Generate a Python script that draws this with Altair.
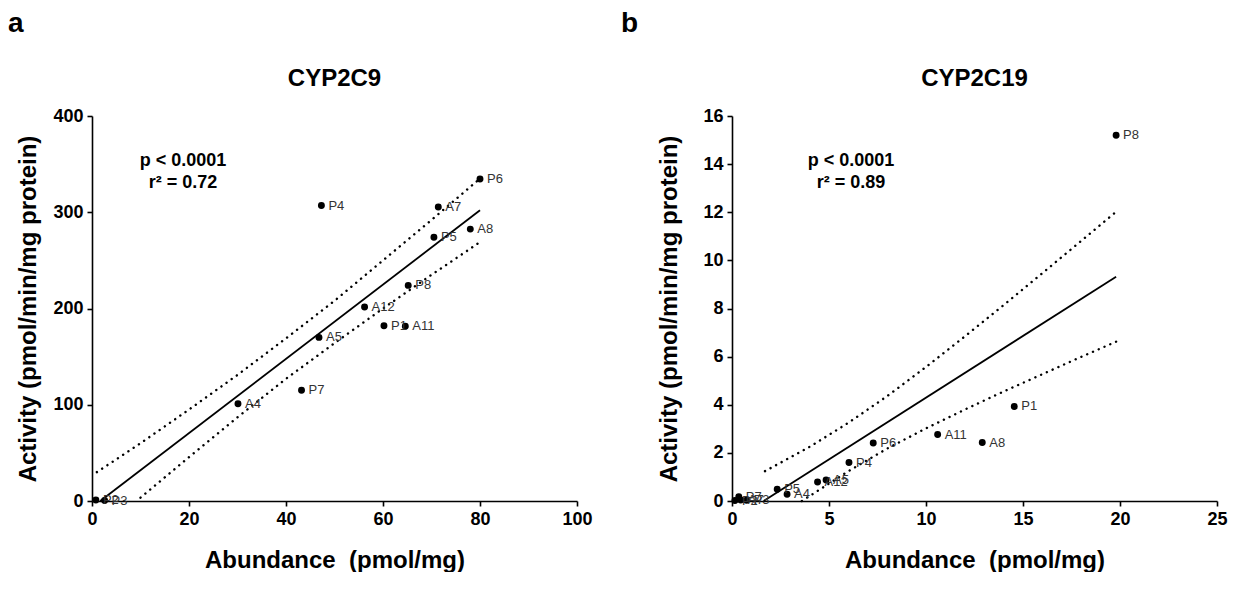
import altair as alt
import pandas as pd

FONT = "Liberation Sans"

# ---------- Panel a: CYP2C9 ----------
a_labels = ["P1", "P2", "P3", "P4", "P5", "P6", "P7", "P8", "A4", "A5", "A7", "A8", "A11", "A12"]
a_abund = [60.2, 0.8, 2.6, 47.3, 70.5, 80.0, 43.2, 65.2, 30.1, 46.8, 71.4, 78.0, 64.6, 56.2]
a_act = [182, 1, 0.5, 307, 274, 334.5, 115, 224, 101, 170, 305.5, 282.5, 181.5, 201.6]
a_fit_x = [1.7, 80]
a_fit_y = [0, 302]
a_up_x = [1, 10, 20, 30, 40, 50, 60, 70, 80]
a_up_y = [30, 60, 95, 131, 169, 208, 250, 292, 335]
a_lo_x = [10, 20, 30, 40, 50, 60, 70, 80]
a_lo_y = [3.5, 45.6, 87, 127, 164, 200, 235, 269]
a_xticks = [0, 20, 40, 60, 80, 100]
a_yticks = [0, 100, 200, 300, 400]
a_stats = ["p < 0.0001", "r\u00b2 = 0.72"]

# ---------- Panel b: CYP2C19 ----------
b_labels = ["P1", "P2", "P3", "P4", "P5", "P6", "P7", "P8", "A4", "A5", "A7", "A8", "A11", "A12"]
b_abund = [14.55, 0.15, 0.75, 6.03, 2.33, 7.28, 0.35, 19.8, 2.84, 4.85, 0.45, 12.9, 10.6, 4.41]
b_act = [3.93, 0.02, 0.03, 1.6, 0.49, 2.41, 0.18, 15.2, 0.28, 0.87, 0.04, 2.43, 2.76, 0.79]
b_fit_x = [1.63, 19.8]
b_fit_y = [0, 9.32]
b_up_x = [1.7, 4, 6, 8, 10, 12, 14, 16, 18, 19.8]
b_up_y = [1.24, 2.25, 3.25, 4.36, 5.57, 6.84, 8.14, 9.47, 10.81, 12.02]
b_lo_x = [3.6, 6, 8, 10, 12, 14, 16, 18, 19.8]
b_lo_y = [0, 1.24, 2.18, 3.02, 3.80, 4.55, 5.27, 5.99, 6.62]
b_xticks = [0, 5, 10, 15, 20, 25]
b_yticks = [0, 2, 4, 6, 8, 10, 12, 14, 16]
b_stats = ["p < 0.0001", "r\u00b2 = 0.89"]

X_TITLE = "Abundance \u00a0(pmol/mg)"
Y_TITLE = "Activity (pmol/min/mg protein)"
W, H = 485, 385


def panel(letter, title, labels, xs, ys, fx, fy, ux, uy, lx, ly, xticks, yticks,
          stats, stat_x, letter_x, ytitle_pad):
    pts = pd.DataFrame({"label": labels, "x": xs, "y": ys})
    fit = pd.DataFrame({"x": fx, "y": fy})
    up = pd.DataFrame({"x": ux, "y": uy})
    lo = pd.DataFrame({"x": lx, "y": ly})
    ann = pd.DataFrame({"t": [letter, title]})

    X = alt.X("x:Q", scale=alt.Scale(domain=[xticks[0], xticks[-1]], nice=False),
              axis=alt.Axis(title=X_TITLE, values=xticks))
    Y = alt.Y("y:Q", scale=alt.Scale(domain=[yticks[0], yticks[-1]], nice=False),
              axis=alt.Axis(title=Y_TITLE, values=yticks, titlePadding=ytitle_pad))

    dotted = dict(color="black", strokeWidth=2.4, strokeDash=[0.1, 6.2], strokeCap="round")
    l_up = alt.Chart(up).mark_line(**dotted).encode(x=X, y=Y)
    l_lo = alt.Chart(lo).mark_line(**dotted).encode(x=X, y=Y)
    l_fit = alt.Chart(fit).mark_line(color="black", strokeWidth=1.8).encode(x=X, y=Y)
    p = alt.Chart(pts).mark_circle(color="black", opacity=1, size=48).encode(x=X, y=Y)
    t = alt.Chart(pts).mark_text(align="left", baseline="middle", dx=7, font=FONT,
                                 fontSize=13, color="#333333").encode(x=X, y=Y, text="label:N")

    st = pd.DataFrame({"t": stats})
    s1 = alt.Chart(st.iloc[[0]]).mark_text(font=FONT, fontSize=18, fontWeight="bold",
                                          align="center", baseline="middle", color="black").encode(
        text="t:N", x=alt.value(stat_x), y=alt.value(45))
    s2 = alt.Chart(st.iloc[[1]]).mark_text(font=FONT, fontSize=18, fontWeight="bold",
                                          align="center", baseline="middle", color="black").encode(
        text="t:N", x=alt.value(stat_x), y=alt.value(67))
    lt = alt.Chart(ann.iloc[[0]]).mark_text(font=FONT, fontSize=28, fontWeight="bold",
                                           align="left", baseline="middle", color="black").encode(
        text="t:N", x=alt.value(letter_x), y=alt.value(-92))
    tt = alt.Chart(ann.iloc[[1]]).mark_text(font=FONT, fontSize=24, fontWeight="bold",
                                           align="center", baseline="middle", color="black").encode(
        text="t:N", x=alt.value(W / 2), y=alt.value(-37))

    return alt.layer(l_up, l_lo, l_fit, p, t, s1, s2, lt, tt).properties(width=W, height=H)


left = panel("a", "CYP2C9", a_labels, a_abund, a_act, a_fit_x, a_fit_y, a_up_x, a_up_y,
             a_lo_x, a_lo_y, a_xticks, a_yticks, a_stats, 91, -84, 12)
right = panel("b", "CYP2C19", b_labels, b_abund, b_act, b_fit_x, b_fit_y, b_up_x, b_up_y,
              b_lo_x, b_lo_y, b_xticks, b_yticks, b_stats, 119, -111, 21)

chart = alt.hconcat(left, right, spacing=28).properties(
    padding={"left": 0, "top": 2, "right": 0, "bottom": 0}, background="white"
).configure_view(
    stroke=None
).configure_axis(
    grid=False,
    domainColor="black", domainWidth=1.6,
    tickColor="black", tickWidth=1.6, tickSize=5,
    labelFont=FONT, labelFontSize=18, labelFontWeight="bold", labelColor="black", labelPadding=4,
    titleFont=FONT, titleFontSize=24, titleFontWeight="bold", titleColor="black",
).configure_axisX(titlePadding=20, labelFlush=False)

chart.save("out.html", embed_options={"renderer": "svg", "actions": False})
